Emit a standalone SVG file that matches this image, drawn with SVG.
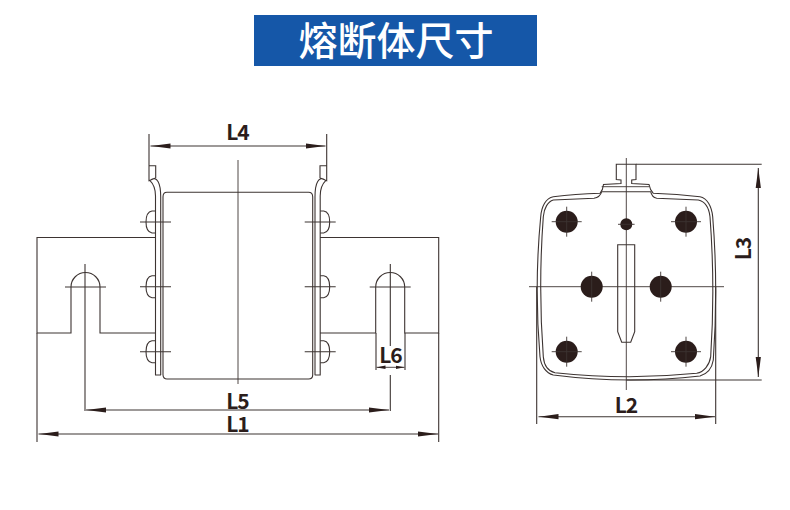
<svg xmlns="http://www.w3.org/2000/svg" xmlns:xlink="http://www.w3.org/1999/xlink" width="790" height="510" viewBox="0 0 790 510">
<style>
.l{fill:none;stroke:#3d3432;stroke-width:1.1}
.t{fill:none;stroke:#3d3432;stroke-width:.9}
.dot{fill:#2b1d1b}
.dim{font-family:"Noto Sans CJK SC","Liberation Sans",sans-serif;font-weight:700;font-size:21px;letter-spacing:-1px;fill:#2b1d1b;text-anchor:middle}
.title{font-family:"Noto Sans CJK SC",sans-serif;font-weight:500;font-size:39px;fill:#fff;text-anchor:middle}
</style>
<defs>
<marker id="a" markerUnits="userSpaceOnUse" markerWidth="20" markerHeight="6" refX="20" refY="3" orient="auto-start-reverse"><path d="M20 3L0 .4V5.6Z" fill="#2b1d1b"/></marker>
<marker id="s" markerUnits="userSpaceOnUse" markerWidth="9" markerHeight="4" refX="9" refY="2" orient="auto-start-reverse"><path d="M9 2L0 .3V3.7Z" fill="#2b1d1b"/></marker>
<path id="hole" class="l" d="M155.5 -11H152Q146 -10 146 0Q146 10 152 11H155.5M140 0H171"/>
<g id="half">
<path class="l" d="M149 134V180.7L155.5 178M149 165.7H155.7V178M150 180.7Q155.5 186 155.500 196V375H161M150.7 180Q155 176.500 158 181.500Q160.700 186 160.700 197V375M155.500 237.500H37V333H71V287A14.500 14.500 0 0 1 100 287V333H155.500"/>
<use xlink:href="#hole" href="#hole" y="222"/>
<use xlink:href="#hole" href="#hole" y="286.700"/>
<use xlink:href="#hole" href="#hole" y="351.700"/>
<path class="l" d="M65 287H106"/>
</g>
</defs>
<g id="title">
<rect x="254" y="15" width="283" height="51" fill="#1557a8"/>
<text class="title" x="396" y="55">熔断体尺寸</text>
</g>
<g id="front-view">
<use xlink:href="#half" href="#half"/>
<use xlink:href="#half" href="#half" transform="matrix(-1 0 0 1 475.700 0)"/>
<path class="l" d="M163 197V375Q163.300 379 167 379H308.500Q312.700 379 312.700 375V197Q312.700 192.300 308.500 192.300H167Q163 192.300 163 197Z"/>
<path class="t" d="M238 160V384"/>
</g>
<g id="end-view">
<path class="l" d="M616.300 164.300V179.500L621 180V183.500L603.500 184.500Q603 190 600 193.300Q575 194 553.300 196.700C546 198 541.500 206 540.700 216.700Q534 286.700 540 356.700C541 366 546 373 553.300 375Q626.700 384.500 700 376C707 374 712 368 713.300 360Q718.400 286.700 712.700 216.700C711.700 206 707 198 700 196.700Q677 194 653.300 193.300Q650 190 649 184.500L631.700 183.500V180L636 179.500V164.300Z"/>
<path class="l" d="M601.700 191.700H650.700Q652 197.500 656.700 198.300L698.300 200C705 201.500 709 208 710 216.700Q715.300 286.700 710.700 356.700C709.500 365 704 372 696.700 373.300Q626.700 380.400 555 372.700C548 371 544 365 543.300 356.700Q538.100 286.700 543.300 216.700C544 208 548 201.500 553.300 200L594 198.300Q600 197.500 601.700 191.700Z"/>
<path class="t" d="M601.700 186.700H649"/>
<path class="l" d="M617.700 244.700H634.700V331.700L630.700 342.300H621.700L617.700 331.700Z"/>
<path class="t" d="M626.300 158V390M529 286.700H724"/>
<circle class="dot" cx="566.700" cy="221.700" r="11"/>
<circle class="dot" cx="686" cy="221.700" r="11"/>
<circle class="dot" cx="591.700" cy="286.700" r="11"/>
<circle class="dot" cx="660.700" cy="286.700" r="11"/>
<circle class="dot" cx="566.700" cy="351.700" r="11"/>
<circle class="dot" cx="686" cy="351.700" r="11"/>
<circle class="dot" cx="626.300" cy="224.300" r="6"/>
<path class="t" d="M551.700 221.700H581.700M566.700 206.700V236.700M671 221.700H701M686 206.700V236.700M591.700 271.700V301.700M660.700 271.700V301.700M551.700 351.700H581.700M566.700 336.700V366.700M671 351.700H701M686 336.700V366.700M618 224.300H634.600"/>
</g>
<g id="connectors">
<path class="l" d="M150.500 146H325.500" marker-start="url(#a)" marker-end="url(#a)"/>
<path class="l" d="M85 264V411"/>
<path class="l" d="M390.300 264V346M390.300 375V411"/>
<path class="l" d="M86 410H389" marker-start="url(#a)" marker-end="url(#a)"/>
<path class="l" d="M38.500 434H438" marker-start="url(#a)" marker-end="url(#a)"/>
<path class="l" d="M37 333V442M438.700 333V442"/>
<path class="l" d="M376 333V370M405 333V370"/>
<path class="t" d="M376.500 367.300H404.500" marker-start="url(#s)" marker-end="url(#s)"/>
<path class="l" d="M636 164.300H761.700M626.300 380H761.700"/>
<path class="l" d="M758.300 168V377" marker-start="url(#a)" marker-end="url(#a)"/>
<path class="l" d="M536.700 286.700V424M715.700 286.700V424"/>
<path class="l" d="M538.500 416.700H715" marker-start="url(#a)" marker-end="url(#a)"/>
</g>
<g id="labels">
<text class="dim" x="237.500" y="139.500">L4</text>
<text class="dim" x="237.500" y="408.500">L5</text>
<text class="dim" x="237.500" y="432">L1</text>
<text class="dim" x="390.500" y="362.500">L6</text>
<text class="dim" x="626" y="413">L2</text>
<text class="dim" transform="translate(750.500 249) rotate(-90)">L3</text>
</g>
</svg>
